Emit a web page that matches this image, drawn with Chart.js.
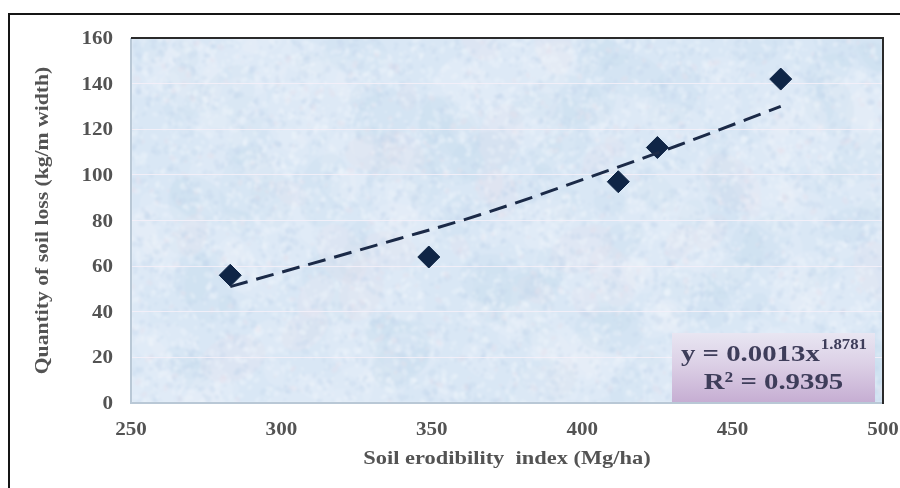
<!DOCTYPE html>
<html>
<head>
<meta charset="utf-8">
<script src="https://cdn.jsdelivr.net/npm/chart.js@4/dist/chart.umd.min.js"></script>
<style>
  html, body { margin: 0; padding: 0; background: #ffffff; }
  #wrap { width: 900px; height: 488px; }
</style>
</head>
<body>
<div id="wrap"><canvas id="chart" width="900" height="488"></canvas></div>
<script>
// Measured soil erodibility index vs. quantity of soil loss
const erodibility = [283, 349, 412, 425, 466];
const soilLoss = [56, 64, 97, 112, 142];

// Power trendline as drawn on the plot
const trendX = [283, 339, 366, 411, 432, 466];
const trendY = [51, 72, 82.5, 103, 113, 130];

// Axis ticks
const xTickValues = [250, 300, 350, 400, 450, 500];
const yTickValues = [0, 20, 40, 60, 80, 100, 120, 140, 160];

// Texts
const xTitle = 'Soil erodibility  index (Mg/ha)';
const yTitle = 'Quantity of soil loss (kg/m width)';
const eqMain = 'y = 0.0013x';
const eqExp = '1.8781';
const eqR2 = 'R\u00B2 = 0.9395';

const SERIF = '"Liberation Serif", "Times New Roman", serif';

// deterministic hash used for the paper-like plot background
function hash(n) {
  const s = Math.sin(n * 127.1 + 311.7) * 43758.5453;
  return s - Math.floor(s);
}

function buildTexture(w, h) {
  const c = document.createElement('canvas');
  c.width = w; c.height = h;
  const g = c.getContext('2d');
  g.fillStyle = '#d9e7f5';
  g.fillRect(0, 0, w, h);
  // broad cloudy variation
  const clouds = Math.floor(w * h / 900);
  for (let i = 0; i < clouds; i++) {
    const x = hash(i * 5 + 11) * w;
    const y = hash(i * 5 + 12) * h;
    const r = 8 + hash(i * 5 + 13) * 18;
    const t = hash(i * 5 + 14);
    g.fillStyle = t < 0.5 ? 'rgba(236,243,251,0.22)'
               : t < 0.9 ? 'rgba(198,217,238,0.22)'
               : 'rgba(234,224,236,0.2)';
    g.beginPath();
    g.ellipse(x, y, r * 1.5, r, hash(i * 5 + 15) * 3, 0, Math.PI * 2);
    g.fill();
  }
  // fine speckle
  const count = Math.floor(w * h / 40);
  for (let i = 0; i < count; i++) {
    const x = hash(i * 3 + 1) * w;
    const y = hash(i * 3 + 2) * h;
    const r = 0.8 + hash(i * 3 + 3) * 2.2;
    const t = hash(i * 7 + 5);
    g.fillStyle = t < 0.55 ? 'rgba(240,246,252,0.32)'
               : t < 0.92 ? 'rgba(196,214,236,0.32)'
               : 'rgba(232,222,234,0.28)';
    g.beginPath();
    g.ellipse(x, y, r * 1.4, r, hash(i) * 3, 0, Math.PI * 2);
    g.fill();
  }
  const c2 = document.createElement('canvas');
  c2.width = w; c2.height = h;
  const g2 = c2.getContext('2d');
  g2.filter = 'blur(1px)';
  g2.drawImage(c, 0, 0);
  return c2;
}

function wideText(ctx, text, x, y, sx, align) {
  ctx.save();
  ctx.translate(x, y);
  ctx.scale(sx, 1);
  ctx.textAlign = align;
  ctx.fillText(text, 0, 0);
  ctx.restore();
}

let texture = null;

const decor = {
  id: 'decor',
  beforeDraw(chart) {
    const ctx = chart.ctx;
    const a = chart.chartArea;
    ctx.save();
    ctx.fillStyle = '#ffffff';
    ctx.fillRect(0, 0, chart.width, chart.height);
    // outer frame
    ctx.strokeStyle = '#151515';
    ctx.lineWidth = 2;
    ctx.strokeRect(9, 14, 1000, 1000);
    // plot background
    const w = Math.round(a.right - a.left), h = Math.round(a.bottom - a.top);
    if (!texture || texture.width !== w || texture.height !== h) texture = buildTexture(w, h);
    ctx.drawImage(texture, a.left, a.top);
    ctx.restore();
  },
  afterDatasetsDraw(chart) {
    const ctx = chart.ctx;
    const a = chart.chartArea;
    ctx.save();
    // equation box
    const bx = a.right - 8, by = a.bottom - 1;
    const left = bx - 203, top = by - 69;
    const grad = ctx.createLinearGradient(0, top, 0, by);
    grad.addColorStop(0, '#e8e6f2');
    grad.addColorStop(0.45, '#dcd0e6');
    grad.addColorStop(1, '#c6aed3');
    ctx.fillStyle = grad;
    ctx.fillRect(left, top, bx - left, by - top);

    const cx = (left + bx) / 2;
    ctx.fillStyle = '#3e3d5a';
    ctx.textBaseline = 'alphabetic';
    const sx = 1.2;
    ctx.font = 'bold 24px ' + SERIF;
    const w1 = ctx.measureText(eqMain).width * sx;
    ctx.font = 'bold 14px ' + SERIF;
    const w2 = ctx.measureText(eqExp).width * sx;
    const start = cx - (w1 + w2) / 2;
    ctx.font = 'bold 24px ' + SERIF;
    wideText(ctx, eqMain, start, top + 28, sx, 'left');
    ctx.font = 'bold 14px ' + SERIF;
    wideText(ctx, eqExp, start + w1 + 1, top + 16, sx, 'left');
    ctx.font = 'bold 24px ' + SERIF;
    wideText(ctx, eqR2, cx, top + 56, sx, 'center');
    ctx.restore();
  },
  afterDraw(chart) {
    const ctx = chart.ctx;
    const a = chart.chartArea;
    const xs = chart.scales.x, ys = chart.scales.y;
    ctx.save();
    // plot frame
    ctx.lineWidth = 2;
    ctx.strokeStyle = '#b9c8d6';
    ctx.beginPath();
    ctx.moveTo(a.left, a.top); ctx.lineTo(a.left, a.bottom); ctx.lineTo(a.right, a.bottom);
    ctx.stroke();
    ctx.strokeStyle = '#2a2a2a';
    ctx.beginPath();
    ctx.moveTo(a.left, a.top); ctx.lineTo(a.right, a.top); ctx.lineTo(a.right, a.bottom + 1);
    ctx.stroke();

    // tick labels
    ctx.fillStyle = '#535353';
    ctx.textBaseline = 'alphabetic';
    ctx.font = 'bold 18px ' + SERIF;
    ys.ticks.forEach(t => {
      wideText(ctx, String(t.value), a.left - 18, ys.getPixelForValue(t.value) + 6, 1.17, 'right');
    });
    xs.ticks.forEach(t => {
      wideText(ctx, String(t.value), xs.getPixelForValue(t.value), a.bottom + 32, 1.17, 'center');
    });

    // axis titles
    ctx.font = 'bold 19px ' + SERIF;
    wideText(ctx, xTitle, (a.left + a.right) / 2, a.bottom + 61, 1.18, 'center');
    ctx.save();
    ctx.translate(48, (a.top + a.bottom) / 2);
    ctx.rotate(-Math.PI / 2);
    ctx.scale(1.14, 1);
    ctx.textAlign = 'center';
    ctx.fillText(yTitle, 0, 0);
    ctx.restore();
    ctx.restore();
  }
};

new Chart(document.getElementById('chart'), {
  type: 'scatter',
  data: {
    datasets: [
      {
        type: 'line',
        label: 'Power trend',
        data: trendX.map((x, i) => ({ x: x, y: trendY[i] })),
        borderColor: '#1b2a47',
        borderWidth: 3,
        borderDash: [18, 9],
        pointRadius: 0,
        fill: false,
        tension: 0.4,
        cubicInterpolationMode: 'monotone'
      },
      {
        type: 'scatter',
        label: 'Soil loss',
        data: erodibility.map((x, i) => ({ x: x, y: soilLoss[i] })),
        pointStyle: 'rectRot',
        pointRadius: 11,
        pointHoverRadius: 11,
        backgroundColor: '#0f2546',
        borderColor: '#0f2546',
        borderWidth: 1
      }
    ]
  },
  options: {
    responsive: false,
    animation: false,
    devicePixelRatio: 1,
    layout: { padding: { left: 131, top: 38, right: 17, bottom: 85 } },
    plugins: { legend: { display: false }, tooltip: { enabled: false } },
    scales: {
      x: {
        type: 'linear', min: 250, max: 500,
        afterBuildTicks: s => { s.ticks = xTickValues.map(v => ({ value: v })); },
        ticks: { display: false },
        grid: { display: false, drawTicks: false },
        border: { display: false },
        title: { display: false }
      },
      y: {
        type: 'linear', min: 0, max: 160,
        afterBuildTicks: s => { s.ticks = yTickValues.map(v => ({ value: v })); },
        ticks: { display: false },
        grid: { color: 'rgba(244,240,248,0.9)', lineWidth: 1, drawTicks: false },
        border: { display: false },
        title: { display: false }
      }
    }
  },
  plugins: [decor]
});
</script>
</body>
</html>
